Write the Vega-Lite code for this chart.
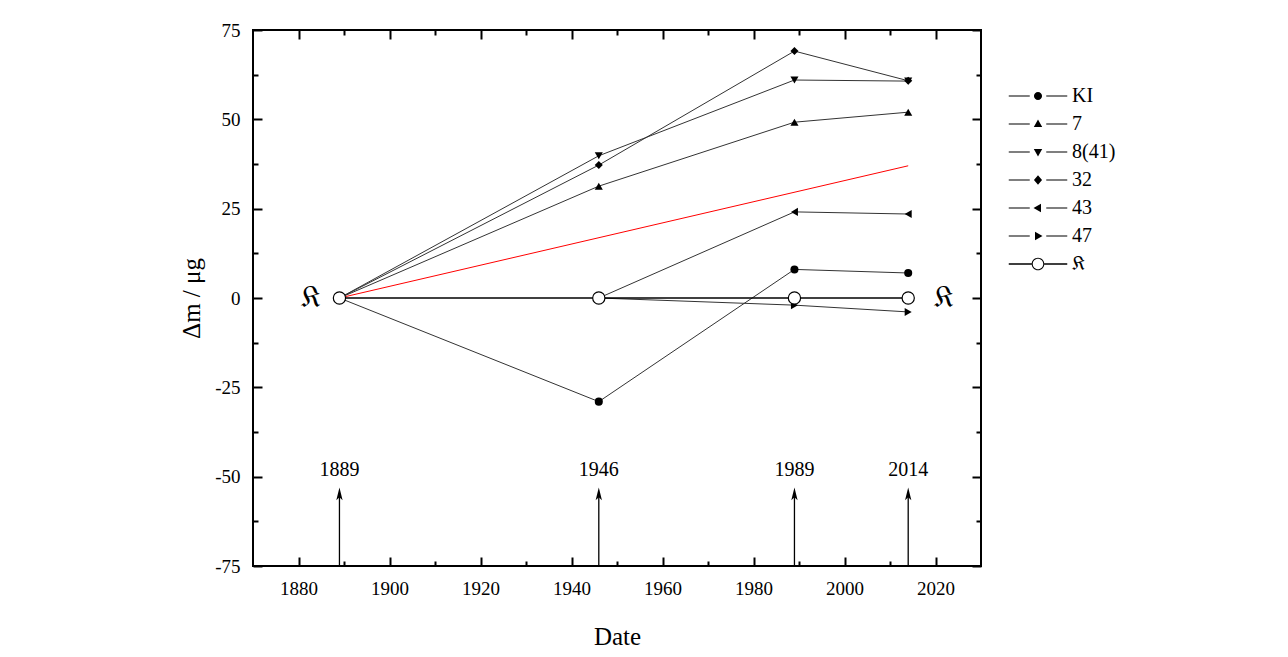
{
  "$schema": "https://vega.github.io/schema/vega-lite/v6.json",
  "width": 728,
  "height": 536,
  "autosize": {"type": "none"},
  "padding": {"left": 253, "top": 30, "right": 307, "bottom": 91},
  "background": "white",
  "config": {
    "view": {"stroke": "black", "strokeWidth": 2},
    "axis": {
      "labelFont": "Liberation Serif",
      "titleFont": "Liberation Serif",
      "labelColor": "black",
      "titleColor": "black",
      "tickColor": "black",
      "domain": false,
      "grid": false,
      "titleFontWeight": "normal"
    }
  },
  "datasets": {
    "pts": [
      {"series": "KI", "year": 1889, "dm": 0},
      {"series": "KI", "year": 1946, "dm": -29},
      {"series": "KI", "year": 1989, "dm": 8},
      {"series": "KI", "year": 2014, "dm": 7},
      {"series": "7", "year": 1889, "dm": 0},
      {"series": "7", "year": 1946, "dm": 31.3},
      {"series": "7", "year": 1989, "dm": 49.2},
      {"series": "7", "year": 2014, "dm": 52},
      {"series": "8(41)", "year": 1889, "dm": 0},
      {"series": "8(41)", "year": 1946, "dm": 39.8},
      {"series": "8(41)", "year": 1989, "dm": 61},
      {"series": "8(41)", "year": 2014, "dm": 60.7},
      {"series": "32", "year": 1889, "dm": 0},
      {"series": "32", "year": 1946, "dm": 37.2},
      {"series": "32", "year": 1989, "dm": 69.1},
      {"series": "32", "year": 2014, "dm": 60.8},
      {"series": "43", "year": 1946, "dm": 0},
      {"series": "43", "year": 1989, "dm": 24.1},
      {"series": "43", "year": 2014, "dm": 23.5},
      {"series": "47", "year": 1946, "dm": 0},
      {"series": "47", "year": 1989, "dm": -2},
      {"series": "47", "year": 2014, "dm": -3.9},
      {"series": "𝔎", "year": 1889, "dm": 0},
      {"series": "𝔎", "year": 1946, "dm": 0},
      {"series": "𝔎", "year": 1989, "dm": 0},
      {"series": "𝔎", "year": 2014, "dm": 0},
      {"series": "fit", "year": 1889, "dm": 0},
      {"series": "fit", "year": 2014, "dm": 37}
    ],
    "arrows": [
      {"year": 1889},
      {"year": 1946},
      {"year": 1989},
      {"year": 2014}
    ],
    "klabels": [
      {"year": 1882.7, "t": "𝔎"},
      {"year": 2021.9, "t": "𝔎"}
    ]
  },
  "layer": [
    {
      "data": {"name": "pts"},
      "transform": [{"filter": "datum.series != 'fit' && datum.series != '𝔎'"}],
      "mark": {"type": "line", "color": "#333333", "strokeWidth": 1},
      "encoding": {
        "x": {"field": "year", "type": "quantitative", "scale": {"domain": [1870, 2030], "nice": false, "zero": false},
          "axis": {"orient": "bottom", "values": [1880, 1900, 1920, 1940, 1960, 1980, 2000, 2020], "format": "d", "tickSize": -9, "tickWidth": 2, "labelPadding": 22, "labelFontSize": 19, "title": "Date", "titleFontSize": 25, "titlePadding": 26, "labelFlush": false}},
        "y": {"field": "dm", "type": "quantitative", "scale": {"domain": [-75, 75], "nice": false, "zero": false},
          "axis": {"orient": "left", "values": [-75, -50, -25, 0, 25, 50, 75], "labelExpr": "toString(datum.value)", "tickSize": -9, "tickWidth": 2, "labelPadding": 22, "labelFontSize": 19, "title": "Δm / μg", "titleFontSize": 25, "titlePadding": 10, "labelFlush": false}},
        "detail": {"field": "series"}
      }
    },
    {
      "data": {"name": "pts"},
      "transform": [{"filter": "datum.series == '𝔎'"}],
      "mark": {"type": "line", "color": "black", "strokeWidth": 1.6},
      "encoding": {
        "x": {"field": "year", "type": "quantitative", "scale": {"domain": [1870, 2030], "nice": false, "zero": false},
          "axis": {"orient": "bottom", "values": [1890, 1910, 1930, 1950, 1970, 1990, 2010], "tickSize": -5, "tickWidth": 2, "labels": false, "title": null}},
        "y": {"field": "dm", "type": "quantitative", "scale": {"domain": [-75, 75], "nice": false, "zero": false},
          "axis": {"orient": "left", "values": [-62.5, -37.5, -12.5, 12.5, 37.5, 62.5], "tickSize": -5, "tickWidth": 2, "labels": false, "title": null}}
      }
    },
    {
      "data": {"name": "pts"},
      "transform": [{"filter": "datum.series == 'fit'"}],
      "mark": {"type": "line", "color": "#ff0000", "strokeWidth": 1},
      "encoding": {
        "x": {"field": "year", "type": "quantitative", "scale": {"domain": [1870, 2030], "nice": false, "zero": false},
          "axis": {"orient": "top", "values": [1880, 1900, 1920, 1940, 1960, 1980, 2000, 2020], "tickSize": -9, "tickWidth": 2, "labels": false, "title": null}},
        "y": {"field": "dm", "type": "quantitative", "scale": {"domain": [-75, 75], "nice": false, "zero": false},
          "axis": {"orient": "right", "values": [-75, -50, -25, 0, 25, 50, 75], "tickSize": -9, "tickWidth": 2, "labels": false, "title": null}}
      }
    },
    {
      "data": {"name": "pts"},
      "transform": [{"filter": "datum.series != 'fit' && datum.series != '𝔎'"}],
      "mark": {"type": "point", "filled": true, "color": "black", "opacity": 1, "size": 65},
      "encoding": {
        "x": {"field": "year", "type": "quantitative", "scale": {"domain": [1870, 2030], "nice": false, "zero": false},
          "axis": {"orient": "top", "values": [1890, 1910, 1930, 1950, 1970, 1990, 2010], "tickSize": -5, "tickWidth": 2, "labels": false, "title": null}},
        "y": {"field": "dm", "type": "quantitative", "scale": {"domain": [-75, 75], "nice": false, "zero": false},
          "axis": {"orient": "right", "values": [-62.5, -37.5, -12.5, 12.5, 37.5, 62.5], "tickSize": -5, "tickWidth": 2, "labels": false, "title": null}},
        "shape": {"field": "series", "type": "nominal",
          "scale": {"domain": ["KI", "7", "8(41)", "32", "43", "47"], "range": ["circle", "triangle-up", "triangle-down", "diamond", "triangle-left", "triangle-right"]},
          "legend": null}
      }
    },
    {
      "data": {"name": "pts"},
      "transform": [{"filter": "datum.series == '𝔎'"}],
      "mark": {"type": "point", "shape": "circle", "filled": false, "fill": "white", "stroke": "black", "strokeWidth": 1.2, "opacity": 1, "size": 150},
      "encoding": {
        "x": {"field": "year", "type": "quantitative", "axis": null},
        "y": {"field": "dm", "type": "quantitative", "axis": null}
      }
    },
    {
      "data": {"name": "pts"},
      "transform": [{"filter": "datum.series != 'fit'"}],
      "mark": {"type": "point", "filled": true, "color": "black", "opacity": 0},
      "encoding": {
        "x": {"field": "year", "type": "quantitative", "axis": null},
        "y": {"field": "dm", "type": "quantitative", "axis": null},
        "shape": {"field": "series", "type": "nominal",
          "scale": {"domain": ["KI", "7", "8(41)", "32", "43", "47", "𝔎"],
            "range": [
              "M-1.95,-0.04H-0.55V0.04H-1.95ZM0.55,-0.04H1.95V0.04H0.55ZM-0.27,0A0.27,0.27 0 1,1 0.27,0A0.27,0.27 0 1,1 -0.27,0Z",
              "M-1.95,-0.04H-0.55V0.04H-1.95ZM0.55,-0.04H1.95V0.04H0.55ZM0,-0.3L0.28,0.2L-0.28,0.2Z",
              "M-1.95,-0.04H-0.55V0.04H-1.95ZM0.55,-0.04H1.95V0.04H0.55ZM0,0.3L0.28,-0.2L-0.28,-0.2Z",
              "M-1.95,-0.04H-0.55V0.04H-1.95ZM0.55,-0.04H1.95V0.04H0.55ZM0,-0.32L0.27,0L0,0.32L-0.27,0Z",
              "M-1.95,-0.04H-0.55V0.04H-1.95ZM0.55,-0.04H1.95V0.04H0.55ZM-0.3,0L0.2,-0.28L0.2,0.28Z",
              "M-1.95,-0.04H-0.55V0.04H-1.95ZM0.55,-0.04H1.95V0.04H0.55ZM0.3,0L-0.2,-0.28L-0.2,0.28Z",
              "M-1.95,-0.055H-0.42V0.055H-1.95ZM0.42,-0.055H1.95V0.055H0.42ZM-0.42,0A0.42,0.42 0 1,1 0.42,0A0.42,0.42 0 1,1 -0.42,0ZM-0.35,0A0.35,0.35 0 1,0 0.35,0A0.35,0.35 0 1,0 -0.35,0Z"
            ]},
          "legend": {
            "orient": "none", "legendX": 770, "legendY": 51, "padding": 0,
            "title": null, "symbolSize": 900, "symbolOpacity": 1,
            "symbolFillColor": "black", "symbolStrokeWidth": 0, "symbolStrokeColor": "transparent",
            "labelFont": "Liberation Serif", "labelFontSize": 20, "labelColor": "black",
            "labelOffset": 19, "rowPadding": 3, "labelLimit": 200
          }}
      }
    },
    {
      "data": {"name": "arrows"},
      "mark": {"type": "rule", "color": "black", "strokeWidth": 1.3},
      "encoding": {
        "x": {"field": "year", "type": "quantitative", "axis": null},
        "y": {"datum": -75, "axis": null},
        "y2": {"datum": -55}
      }
    },
    {
      "data": {"name": "arrows"},
      "mark": {"type": "point", "shape": "M0,-1L0.45,0.8L0,0.4L-0.45,0.8Z", "filled": true, "color": "black", "opacity": 1, "size": 196},
      "encoding": {
        "x": {"field": "year", "type": "quantitative", "axis": null},
        "y": {"datum": -55, "axis": null}
      }
    },
    {
      "data": {"name": "arrows"},
      "mark": {"type": "text", "font": "Liberation Serif", "fontSize": 20, "color": "black", "baseline": "middle", "align": "center"},
      "encoding": {
        "x": {"field": "year", "type": "quantitative", "axis": null},
        "y": {"datum": -48, "axis": null},
        "text": {"field": "year", "type": "quantitative", "format": "d"}
      }
    },
    {
      "data": {"name": "klabels"},
      "mark": {"type": "text", "font": "DejaVu Serif", "fontSize": 30, "color": "black", "baseline": "middle", "align": "center"},
      "encoding": {
        "x": {"field": "year", "type": "quantitative", "axis": null},
        "y": {"datum": 0, "axis": null},
        "text": {"field": "t"}
      }
    }
  ],
  "resolve": {"axis": {"x": "independent", "y": "independent"}, "scale": {"shape": "independent"}}
}
